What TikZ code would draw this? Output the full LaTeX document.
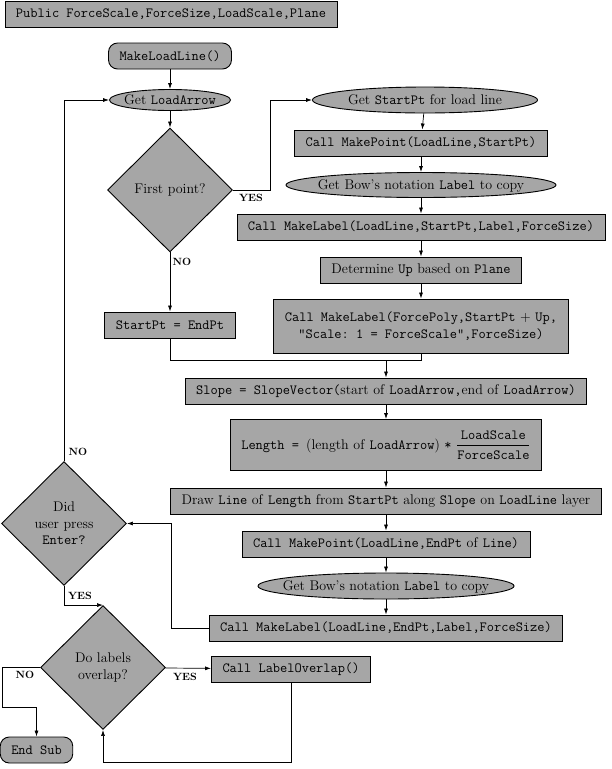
\documentclass[tikz,border=0pt]{standalone}
\usetikzlibrary{shapes.geometric,arrows.meta}

\definecolor{boxgray}{gray}{0.65}
\tikzset{
  every node/.style={font=\fontsize{14}{16.5}\selectfont\frenchspacing},
  box/.style={draw, fill=boxgray, line width=0.9pt, rectangle, inner xsep=11pt, inner ysep=3pt, minimum height=26pt},
  term/.style={box, rounded corners=9pt},
  oval/.style={draw, fill=boxgray, line width=0.9pt, ellipse, inner sep=0pt, text height=9.5pt, text depth=0pt,
    execute at begin node={\hbox to 0pt\bgroup\hss}, execute at end node={\hss\egroup}},
  choice/.style={draw, fill=boxgray, line width=0.9pt, diamond, inner sep=0pt, minimum width=125pt, minimum height=124pt, align=center},
  flow/.style={line width=0.7pt, -{Latex[length=6pt,width=4pt]}},
  answer/.style={font=\fontsize{10.5}{12}\selectfont\bfseries}
}

\begin{document}
\begin{tikzpicture}[x=1pt, y=-1pt]
  \useasboundingbox (0,0) rectangle (612,769);

  \node[box] (pub) at (171,14) {\texttt{Public ForceScale,ForceSize,LoadScale,Plane}};
  \node[term] (begin) at (170,56) {\texttt{MakeLoadLine()}};
  \node[oval, minimum width=121pt, minimum height=21pt] (arrow) at (170,100) {Get \texttt{LoadArrow}};
  \node[choice] (first) at (170,190) {First point?};
  \node[box] (swap) at (170,325) {\texttt{StartPt = EndPt}};

  % first point only: start of the load line
  \node[oval, minimum width=225pt, minimum height=26pt] (getstart) at (425,100) {Get \texttt{StartPt} for load line};
  \node[box] (pt1) at (421,143) {\texttt{Call MakePoint(LoadLine,StartPt)}};
  \node[oval, minimum width=270pt, minimum height=25pt] (bow1) at (421,185) {Get Bow's notation \texttt{Label} to copy};
  \node[box] (lab1) at (421,227) {\texttt{Call MakeLabel(LoadLine,StartPt,Label,ForceSize)}};
  \node[box] (up) at (421,270) {Determine \texttt{Up} based on \texttt{Plane}};
  \node[box, align=center, minimum height=54pt] (scale) at (421,326)
    {\texttt{Call MakeLabel(ForcePoly,StartPt} + \texttt{Up,}\\\texttt{"Scale: 1 = ForceScale",ForceSize)}};

  \coordinate (merge) at (386,360);
  \node[box] (slope) at (386,391) {\texttt{Slope = SlopeVector(}start of \texttt{LoadArrow,}end of \texttt{LoadArrow)}};
  \node[box, minimum height=51pt] (len) at (386,445)
    {\texttt{Length = }(length of \texttt{LoadArrow}) \texttt{*} $\displaystyle\frac{\texttt{LoadScale}}{\texttt{ForceScale}}$};
  \node[box] (line) at (386,501) {Draw \texttt{Line} of \texttt{Length} from \texttt{StartPt} along \texttt{Slope} on \texttt{LoadLine} layer};
  \node[box] (pt2) at (386,544) {\texttt{Call MakePoint(LoadLine,EndPt} of \texttt{Line)}};
  \node[oval, minimum width=256pt, minimum height=26pt] (bow2) at (386,586) {Get Bow's notation \texttt{Label} to copy};
  \node[box] (lab2) at (386,628) {\texttt{Call MakeLabel(LoadLine,EndPt,Label,ForceSize)}};

  \node[choice] (enter) at (64,523.5) {Did\\user press\\\texttt{Enter?}};
  \node[choice] (overlap) at (103,667.5) {Do labels\\overlap?};
  \node[box] (fix) at (291,669) {\texttt{Call LabelOverlap()}};
  \node[term] (finish) at (36.5,750) {\texttt{End Sub}};

  \node[answer] (yes1) at (251,198) {YES};
  \node[answer] (no1) at (182,262) {NO};
  \node[answer] (no2) at (78,452) {NO};
  \node[answer] (yes2) at (80,596) {YES};
  \node[answer] (no3) at (25,675) {NO};
  \node[answer] (yes3) at (185,677) {YES};

  \draw[flow] (begin) -- (arrow);
  \draw[flow] (arrow) -- (first);
  \draw[flow] (first.east) -- ++(37,0) |- (getstart.west);
  \draw[flow] (getstart) -- (pt1);
  \draw[flow] (pt1) -- (bow1);
  \draw[flow] (bow1) -- (lab1);
  \draw[flow] (lab1) -- (up);
  \draw[flow] (up) -- (scale);
  \draw[flow] (first) -- (swap);
  \draw[line width=0.7pt] (swap.south) |- (merge -| scale.south) -- (scale.south);
  \draw[flow] (merge) -- (slope);
  \draw[flow] (slope) -- (len);
  \draw[flow] (len) -- (line);
  \draw[flow] (line) -- (pt2);
  \draw[flow] (pt2) -- (bow2);
  \draw[flow] (bow2) -- (lab2);
  \draw[flow] (lab2.west) -- ++(-37,0) |- (enter.east);
  \draw[flow] (enter.north) |- (arrow.west);
  \draw[flow] (enter.south) |- (overlap.north);
  \draw[flow] (overlap) -- (fix);
  \draw[flow] (fix.south) -- ++(0,80) -| (overlap.south);
  \draw[flow] (overlap.west) -| (2,707) -| (finish.north);
\end{tikzpicture}
\end{document}
